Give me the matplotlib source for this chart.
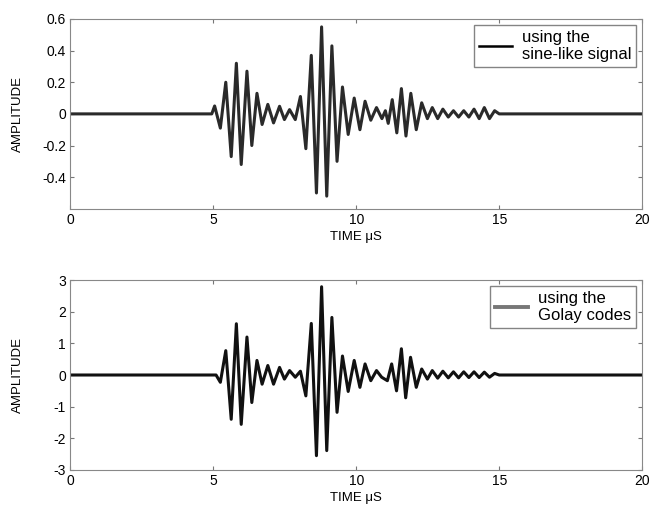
import matplotlib
matplotlib.use("Agg")
import matplotlib.pyplot as plt
from matplotlib.lines import Line2D

plt.rcParams['font.family'] = ['Liberation Sans', 'DejaVu Sans']
plt.rcParams['axes.unicode_minus'] = False

# extrema of the sine-like signal response (time in us, amplitude)
sine_t = [0, 4.95, 5.05, 5.25, 5.44, 5.63, 5.81, 5.98, 6.18, 6.35, 6.53, 6.71,
          6.91, 7.11, 7.32, 7.49, 7.67, 7.87, 8.05, 8.24, 8.43, 8.61, 8.79,
          8.97, 9.15, 9.33, 9.52, 9.72, 9.93, 10.13, 10.31, 10.51, 10.71,
          10.90, 11.02, 11.12, 11.26, 11.42, 11.58, 11.74, 11.91, 12.10,
          12.29, 12.49, 12.66, 12.85, 13.03, 13.22, 13.40, 13.58, 13.76,
          13.94, 14.12, 14.30, 14.48, 14.66, 14.84, 15.0, 20]
sine_amp = [0, 0, 0.05, -0.09, 0.20, -0.27, 0.32, -0.32, 0.27, -0.20, 0.13,
            -0.067, 0.06, -0.057, 0.048, -0.036, 0.027, -0.036, 0.11, -0.22,
            0.37, -0.50, 0.55, -0.52, 0.43, -0.30, 0.17, -0.13, 0.10, -0.10,
            0.08, -0.04, 0.04, -0.03, 0.02, -0.06, 0.09, -0.12, 0.16, -0.14,
            0.13, -0.10, 0.07, -0.03, 0.04, -0.03, 0.03, -0.02, 0.02, -0.02,
            0.02, -0.02, 0.03, -0.03, 0.04, -0.03, 0.02, 0, 0]

# extrema of the Golay code response
golay_t = [0, 5.10, 5.25, 5.44, 5.63, 5.81, 5.98, 6.18, 6.35, 6.53, 6.71,
           6.91, 7.11, 7.32, 7.49, 7.67, 7.87, 8.05, 8.24, 8.43, 8.61, 8.79,
           8.97, 9.15, 9.33, 9.52, 9.72, 9.93, 10.13, 10.31, 10.51, 10.71,
           10.89, 11.09, 11.24, 11.41, 11.58, 11.73, 11.90, 12.10, 12.29,
           12.49, 12.66, 12.85, 13.03, 13.22, 13.40, 13.58, 13.76, 13.94,
           14.12, 14.30, 14.48, 14.66, 14.84, 15.0, 20]
golay_amp = [0, 0, -0.23, 0.77, -1.40, 1.62, -1.56, 1.20, -0.87, 0.46, -0.29,
             0.30, -0.29, 0.24, -0.13, 0.14, -0.07, 0.12, -0.66, 1.63, -2.55,
             2.79, -2.39, 1.82, -1.18, 0.60, -0.52, 0.46, -0.39, 0.35, -0.18,
             0.14, -0.07, -0.18, 0.35, -0.50, 0.83, -0.72, 0.56, -0.39, 0.19,
             -0.13, 0.14, -0.10, 0.12, -0.09, 0.10, -0.09, 0.10, -0.08, 0.10,
             -0.08, 0.09, -0.07, 0.05, 0, 0]

xticks = [0, 5, 10, 15, 20]
top_yticks = [-0.4, -0.2, 0, 0.2, 0.4, 0.6]
bot_yticks = [-3, -2, -1, 0, 1, 2, 3]

fig = plt.figure(figsize=(6.5, 5.13), dpi=100)
ax1 = fig.add_axes([0.108, 0.593, 0.880, 0.370])
ax2 = fig.add_axes([0.108, 0.084, 0.880, 0.370])

legend_kw = dict(loc='upper right', fancybox=False, edgecolor='#666666',
                 fontsize=12, handlelength=2.0, handletextpad=0.6,
                 borderpad=0.3, labelspacing=0.15, borderaxespad=0.35)

ax1.plot(sine_t, sine_amp, color='#2a2a2a', lw=2.2, solid_joinstyle='round')
ax1.set_xlim(0, 20)
ax1.set_ylim(-0.6, 0.6)
ax1.set_yticks(top_yticks)
ax1.set_yticklabels(['-0.4', '-0.2', '0', '0.2', '0.4', '0.6'])
ax1.legend(handles=[Line2D([], [], color='black', lw=1.8)],
           labels=['using the\nsine-like signal'], **legend_kw)

ax2.plot(golay_t, golay_amp, color='#111111', lw=2.2, solid_joinstyle='round')
ax2.set_xlim(0, 20)
ax2.set_ylim(-3, 3)
ax2.set_yticks(bot_yticks)
ax2.legend(handles=[Line2D([], [], color='#777777', lw=2.8)],
           labels=['using the\nGolay codes'], **legend_kw)

for ax in (ax1, ax2):
    ax.set_xticks(xticks)
    ax.tick_params(direction='in', top=True, right=True, labelsize=10,
                   length=3, color='#777777', pad=3)
    for s in ax.spines.values():
        s.set_color('#888888')
    ax.set_xlabel('TIME μS', fontsize=9.5, labelpad=3)
    ax.set_ylabel('AMPLITUDE', fontsize=9.5)
    ax.yaxis.set_label_coords(-0.08, 0.5)

fig.savefig('out.png', dpi=100)
